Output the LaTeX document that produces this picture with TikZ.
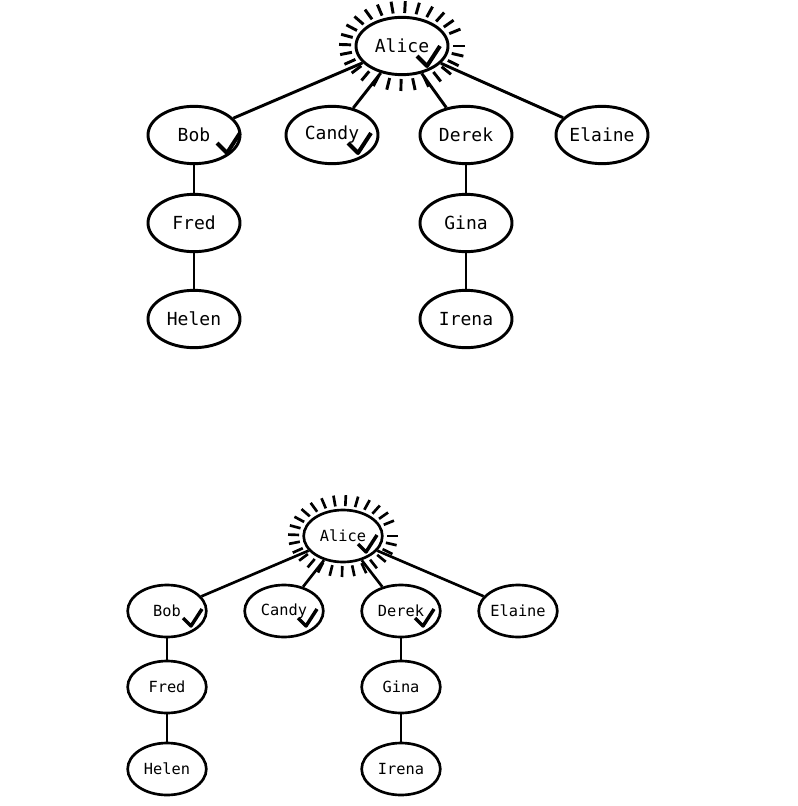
\documentclass[tikz,border=0pt]{standalone}
\usepackage{fontspec}
\setmonofont{DejaVu Sans Mono}
\usetikzlibrary{shapes.geometric}

\tikzset{
  person/.style={ellipse, draw, line width=2.2pt, inner sep=0pt,
    minimum width=69pt, minimum height=43pt,
    font=\ttfamily\fontsize{13.5}{15}\selectfont},
  smallperson/.style={person, line width=2pt,
    minimum width=59pt, minimum height=39pt,
    font=\ttfamily\fontsize{11.5}{13}\selectfont},
  link/.style={line width=2.2pt},
  smalllink/.style={line width=2pt},
  ray/.style={line width=2.2pt},
  checkmark/.pic={\draw[line width=3pt, line join=round] (-10,-10) -- (0,0) -- (13,-20);},
  smallcheck/.pic={\draw[line width=2.6pt, line join=round] (-8,-8) -- (0,0) -- (11,-17);}
}

\begin{document}
\begin{tikzpicture}[x=0.75pt, y=-0.75pt]
  \useasboundingbox (0,0) rectangle (797,806);

  % Upper tree
  \node[person] (alice) at (402,46) {Alice};
  \node[person] (bob) at (194,135) {Bob};
  \node[person] (candy) at (332,135) {Candy};
  \node[person] (derek) at (466,135) {Derek};
  \node[person] (elaine) at (602,135) {Elaine};
  \node[person] (fred) at (194,223) {Fred};
  \node[person] (helen) at (194,319) {Helen};
  \node[person] (gina) at (466,223) {Gina};
  \node[person] (irena) at (466,319) {Irena};

  \foreach \a in {0,13,...,350}
    \draw[ray] ([shift={({51*cos(\a)},{33*sin(\a)})}]alice.center)
      -- ([shift={({63*cos(\a)},{45*sin(\a)})}]alice.center);

  \draw[link] (alice) -- (bob);
  \draw[link] (alice) -- (candy);
  \draw[link] (alice) -- (derek);
  \draw[link] (alice) -- (elaine);
  \draw[link] (bob) -- (fred);
  \draw[link] (fred) -- (helen);
  \draw[link] (derek) -- (gina);
  \draw[link] (gina) -- (irena);

  \pic at ([shift={(25,20)}]alice.center) {checkmark};
  \pic at ([shift={(33,18)}]bob.center) {checkmark};
  \pic at ([shift={(26,18)}]candy.center) {checkmark};

  % Lower tree
  \node[smallperson] (alice2) at (343,536) {Alice};
  \node[smallperson] (bob2) at (167,611) {Bob};
  \node[smallperson] (candy2) at (284,611) {Candy};
  \node[smallperson] (derek2) at (401,611) {Derek};
  \node[smallperson] (elaine2) at (518,611) {Elaine};
  \node[smallperson] (fred2) at (167,687) {Fred};
  \node[smallperson] (helen2) at (167,769) {Helen};
  \node[smallperson] (gina2) at (401,687) {Gina};
  \node[smallperson] (irena2) at (401,769) {Irena};

  \foreach \a in {0,13,...,350}
    \draw[ray, line width=2pt] ([shift={({44*cos(\a)},{30*sin(\a)})}]alice2.center)
      -- ([shift={({55*cos(\a)},{41*sin(\a)})}]alice2.center);

  \draw[smalllink] (alice2) -- (bob2);
  \draw[smalllink] (alice2) -- (candy2);
  \draw[smalllink] (alice2) -- (derek2);
  \draw[smalllink] (alice2) -- (elaine2);
  \draw[smalllink] (bob2) -- (fred2);
  \draw[smalllink] (fred2) -- (helen2);
  \draw[smalllink] (derek2) -- (gina2);
  \draw[smalllink] (gina2) -- (irena2);

  \pic at ([shift={(23,16)}]alice2.center) {smallcheck};
  \pic at ([shift={(24,15)}]bob2.center) {smallcheck};
  \pic at ([shift={(22,15)}]candy2.center) {smallcheck};
  \pic at ([shift={(22,15)}]derek2.center) {smallcheck};
\end{tikzpicture}
\end{document}
